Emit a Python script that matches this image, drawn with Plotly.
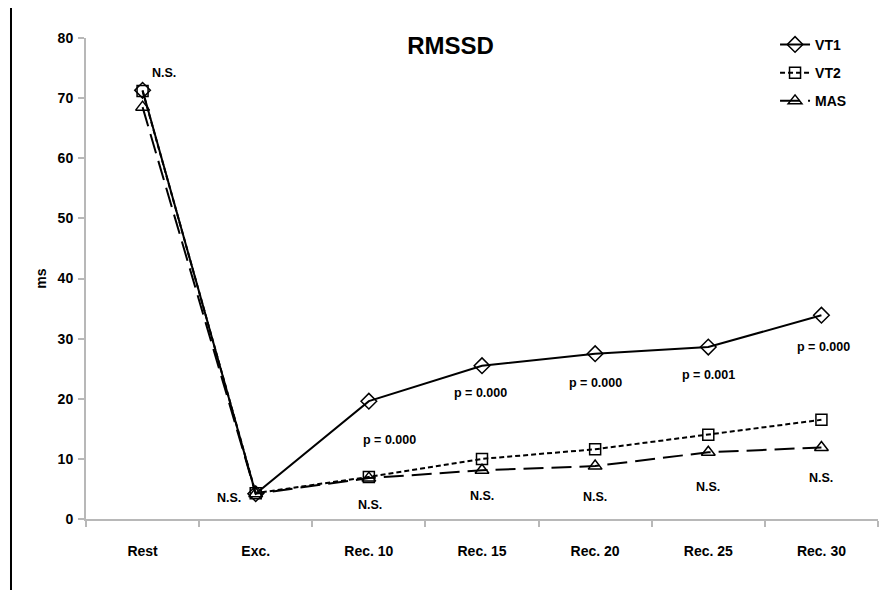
import plotly.graph_objects as go

categories = ["Rest", "Exc.", "Rec. 10", "Rec. 15", "Rec. 20", "Rec. 25", "Rec. 30"]
vt1 = [71.3, 4.2, 19.6, 25.5, 27.5, 28.6, 33.9]
vt2 = [71.2, 4.3, 7.0, 10.0, 11.6, 14.0, 16.5]
mas = [68.5, 4.2, 6.8, 8.1, 8.8, 11.1, 11.9]

# significance notes: (category, y, text, xshift)
note_cats = ["Rest", "Exc.", "Rec. 10", "Rec. 10", "Rec. 15", "Rec. 15", "Rec. 20", "Rec. 20",
             "Rec. 25", "Rec. 25", "Rec. 30", "Rec. 30"]
note_y = [74.2, 3.5, 13.1, 2.3, 21.0, 3.8, 22.6, 3.7, 24.0, 5.3, 28.6, 6.8]
note_text = ["N.S.", "N.S.", "p = 0.000", "N.S.", "p = 0.000", "N.S.", "p = 0.000", "N.S.",
             "p = 0.001", "N.S.", "p = 0.000", "N.S."]
note_shift = [21, -27, 21, 1, -2, 0, 0, 0, 0, 0, 2, 0]

FONT = "Liberation Sans, Arial, sans-serif"

fig = go.Figure()
fig.add_trace(go.Scatter(x=categories, y=vt1, name="VT1", legendgroup="VT1", mode="lines+markers",
                         line=dict(color="black", width=2),
                         marker=dict(symbol="diamond-open", size=12, color="black", line=dict(width=1.5))))
fig.add_trace(go.Scatter(x=categories, y=vt2, name="VT2", legendgroup="VT2", mode="lines+markers",
                         line=dict(color="black", width=2, dash="5px,3px"),
                         marker=dict(symbol="square-open", size=11, color="black", line=dict(width=1.5))))
fig.add_trace(go.Scatter(x=categories, y=mas, name="MAS", legendgroup="MAS", mode="lines+markers",
                         line=dict(color="black", width=2, dash="20px,8px"),
                         marker=dict(symbol="triangle-up-open", size=12, color="black", line=dict(width=1.5))))

for c, y, t, s in zip(note_cats, note_y, note_text, note_shift):
    fig.add_annotation(x=c, y=y, text=t, showarrow=False, xshift=s,
                       font=dict(family=FONT, size=12.5, color="black", weight="bold"))

fig.add_shape(type="line", xref="paper", yref="paper", x0=-0.0947, x1=-0.0947, y0=-0.16, y1=1.08,
              line=dict(color="black", width=2))

fig.update_layout(
    width=885, height=582,
    margin=dict(l=78, r=15, t=30, b=71),
    paper_bgcolor="white", plot_bgcolor="white",
    title=dict(text="RMSSD", x=0.5, xanchor="center", y=0.935, yanchor="middle",
               font=dict(family=FONT, size=24, color="black", weight="bold")),
    font=dict(family=FONT, size=13, color="black"),
    showlegend=True,
    legend=dict(x=0.870, xanchor="left", y=1.019, yanchor="top", bgcolor="rgba(0,0,0,0)",
                font=dict(family=FONT, size=14, color="black", weight="bold"),
                tracegroupgap=7),
    xaxis=dict(type="category", range=[-0.5, 6.5], showline=True, linecolor="#b8b8b8", linewidth=2,
               ticks="outside", tickson="boundaries", ticklen=6, tickcolor="#b8b8b8", tickwidth=1.5,
               showgrid=False, zeroline=False, ticklabelstandoff=18, automargin=False,
               tickfont=dict(family=FONT, size=14, color="black", weight="bold")),
    yaxis=dict(range=[0, 80], dtick=10, showline=True, linecolor="#b8b8b8", linewidth=2,
               ticks="outside", ticklen=6, tickcolor="#b8b8b8", tickwidth=1.5,
               showgrid=False, zeroline=False, ticklabelstandoff=2, automargin=False,
               title=dict(text="ms", standoff=8, font=dict(family=FONT, size=14, color="black", weight="bold")),
               tickfont=dict(family=FONT, size=14, color="black", weight="bold")),
)

fig.write_html("out.html")
